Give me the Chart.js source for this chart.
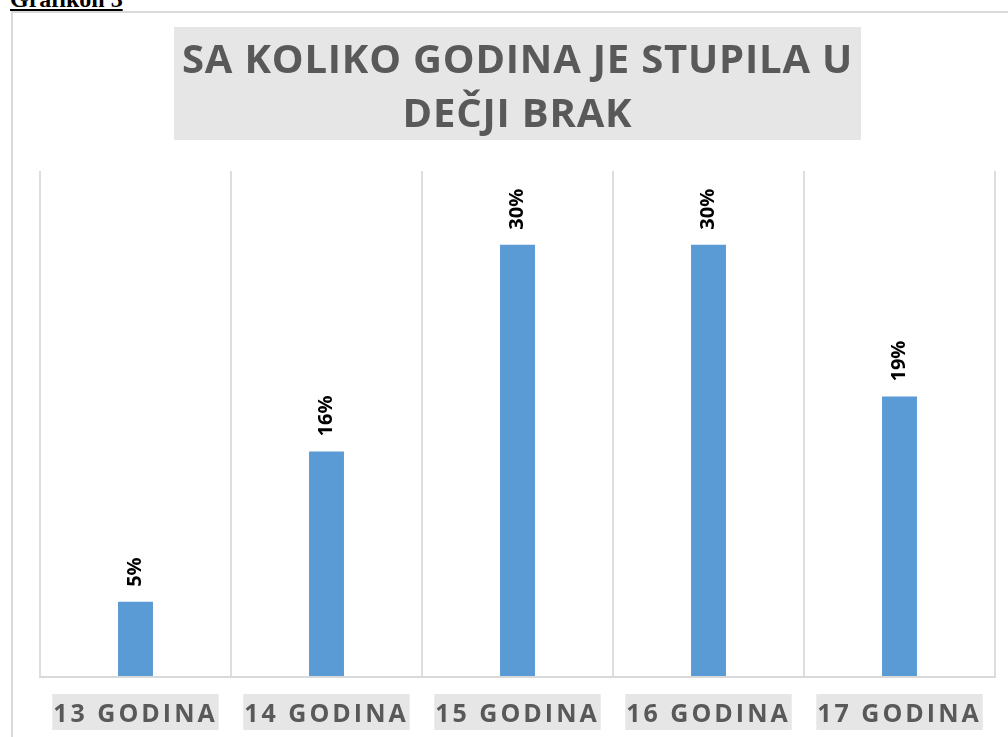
<!DOCTYPE html>
<html>
<head>
<meta charset="utf-8">
<script src="https://cdn.jsdelivr.net/npm/chart.js@4/dist/chart.umd.min.js"></script>
<style>
    html, body { margin: 0; padding: 0; background: #fff; overflow: hidden; }
    .heading {
        position: absolute; left: 10px; top: -13px;
        font: bold 24px/24px "Liberation Serif", serif;
        text-decoration: underline; color: #000;
    }
    .frame {
        position: absolute; left: 11px; top: 11px; width: 1100px; height: 800px;
        border-left: 2px solid #d9d9d9; border-top: 2px solid #d9d9d9;
    }
    #chart { position: absolute; left: 0; top: 0; }
</style>
</head>
<body>
<div class="heading">Grafikon 3</div>
<div class="frame"></div>
<canvas id="chart" width="1008" height="761"></canvas>
<script>
const titleLines = ['SA KOLIKO GODINA JE STUPILA U', 'DEČJI BRAK'];
const categories = ['13 GODINA', '14 GODINA', '15 GODINA', '16 GODINA', '17 GODINA'];
const values = [5.2, 15.6, 29.9, 29.9, 19.4];
const valueLabels = ['5%', '16%', '30%', '30%', '19%'];

const TEXT_GRAY = '#595959';
const TITLE_FONT = { family: 'Open Sans', size: 40, weight: 'bold', lineHeight: 1.35 };

// gray box behind the title + letter spacing for title / tick labels
const spacingPlugin = {
    id: 'spacing',
    beforeLayout(chart) {
        chart.ctx.letterSpacing = '3px';
    },
    beforeDraw(chart) {
        const ctx = chart.ctx;
        ctx.letterSpacing = '0.8px';
        const tb = chart.titleBlock;
        if (!tb) return;
        ctx.save();
        ctx.font = `${TITLE_FONT.weight} ${TITLE_FONT.size}px "${TITLE_FONT.family}"`;
        const w = Math.max(...titleLines.map(l => ctx.measureText(l).width));
        const cx = (tb.left + tb.right) / 2;
        ctx.fillStyle = '#e7e6e6';
        ctx.fillRect(cx - w / 2 - 8, tb.top, w + 16, tb.height - 31);
        ctx.restore();
    },
    afterDatasetsDraw(chart) {
        const ctx = chart.ctx;
        const meta = chart.getDatasetMeta(0);
        ctx.save();
        ctx.letterSpacing = '0px';
        ctx.font = 'bold 20px "Open Sans"';
        ctx.fillStyle = '#000';
        ctx.textAlign = 'left';
        ctx.textBaseline = 'middle';
        meta.data.forEach((bar, i) => {
            ctx.save();
            ctx.translate(bar.x, bar.y - 15);
            ctx.rotate(-Math.PI / 2);
            ctx.fillText(valueLabels[i], 0, 0);
            ctx.restore();
        });
        ctx.restore();
        ctx.letterSpacing = '3px';
    }
};

new Chart(document.getElementById('chart'), {
    type: 'bar',
    data: {
        labels: categories,
        datasets: [{
            data: values,
            backgroundColor: '#5b9bd5',
            borderWidth: 0,
            categoryPercentage: 1,
            barPercentage: 0.183
        }]
    },
    options: {
        responsive: false,
        animation: false,
        layout: { padding: { left: 40, right: 13, top: 27, bottom: 8 } },
        plugins: {
            legend: { display: false },
            tooltip: { enabled: false },
            title: {
                display: true,
                text: titleLines,
                color: TEXT_GRAY,
                font: TITLE_FONT,
                padding: { top: 8, bottom: 28 }
            }
        },
        scales: {
            x: {
                grid: { display: true, offset: true, color: '#dedede', lineWidth: 2, drawTicks: false },
                border: { display: true, color: '#d9d9d9', width: 2, z: 1 },
                ticks: {
                    z: 1,
                    color: TEXT_GRAY,
                    font: { family: 'Open Sans', size: 25, weight: 'bold', lineHeight: 1.2 },
                    padding: 23,
                    maxRotation: 0,
                    showLabelBackdrop: true,
                    backdropColor: '#e7e6e6',
                    backdropPadding: { top: 6, bottom: 0, left: 1, right: 1 }
                }
            },
            y: {
                display: false,
                min: 0,
                max: 35
            }
        }
    },
    plugins: [spacingPlugin]
});
</script>
</body>
</html>
